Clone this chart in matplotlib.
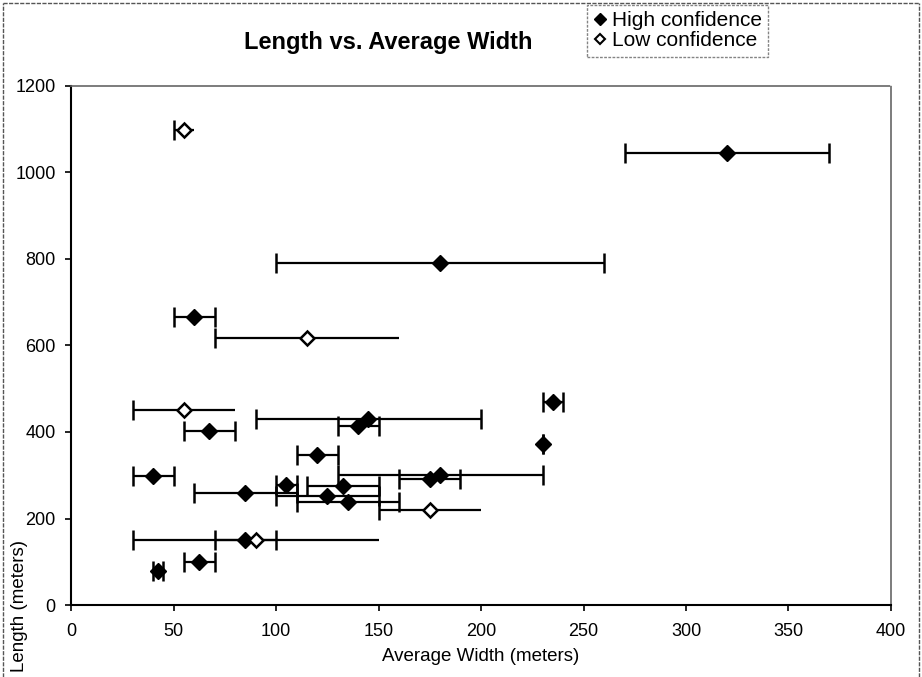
import matplotlib
matplotlib.use('Agg')
import matplotlib.pyplot as plt
from matplotlib.lines import Line2D

plt.rcParams['font.family'] = ['Liberation Sans', 'DejaVu Sans']

# high confidence: width, length, half-range of width
high_x = [320, 180, 60, 235, 230, 145, 140, 67.5, 120, 40, 180, 175, 105, 132.5, 85, 125, 135, 85, 62.5, 42.5]
high_y = [1045, 790, 665, 470, 372, 430, 413, 403, 346, 298, 300, 291, 277, 275, 258, 251, 238, 150, 100, 79]
high_xerr = [50, 80, 10, 5, 0, 55, 10, 12.5, 10, 10, 50, 15, 5, 17.5, 25, 25, 25, 15, 7.5, 2.5]

# low confidence
low_x = [55, 115, 55, 175, 90]
low_y = [1098, 618, 451, 220, 150]
low_xerr = [5, 45, 25, 25, 60]

x_ticks = [0, 50, 100, 150, 200, 250, 300, 350, 400]
y_ticks = [0, 200, 400, 600, 800, 1000, 1200]

W, H = 922, 677
fig = plt.figure(figsize=(W / 100, H / 100), dpi=100)
ax = fig.add_axes([71 / W, 1 - 605 / H, (891 - 71) / W, (605 - 86) / H])

# error bars + markers
ax.errorbar(high_x, high_y, xerr=high_xerr, fmt='none', ecolor='black',
            elinewidth=1.6, capsize=7, capthick=1.8, zorder=2)
eb = ax.errorbar(low_x, low_y, xerr=low_xerr, fmt='none', ecolor='black',
                 elinewidth=1.6, capsize=7, capthick=1.8, zorder=2)
eb[1][1].set_visible(False)  # low confidence bars only show left cap

ax.plot(high_x, high_y, 'D', color='black', ms=8.5, zorder=3)
ax.plot(low_x, low_y, 'D', mfc='white', mec='black', mew=1.8, ms=7.5, zorder=3)

ax.set_xlim(0, 400)
ax.set_ylim(0, 1200)
ax.set_xticks(x_ticks)
ax.set_yticks(y_ticks)
ax.tick_params(labelsize=13, length=4, width=1.2, direction='out')
ax.tick_params(axis='x', pad=9)
ax.tick_params(axis='y', pad=7)
ax.set_xlabel('Average Width (meters)', fontsize=13.5, labelpad=6)

for s in ['top', 'right']:
    ax.spines[s].set_color('#666666')
    ax.spines[s].set_linestyle((0, (2, 1)))
    ax.spines[s].set_linewidth(1.2)
for s in ['left', 'bottom']:
    ax.spines[s].set_linewidth(1.5)

fig.text(388 / W, 1 - 42 / H, 'Length vs. Average Width', fontsize=17,
         fontweight='bold', ha='center', va='center')
fig.text(20 / W, 1 - 606 / H, 'Length (meters)', fontsize=13.5,
         rotation=90, ha='center', va='center')

# outer chart border (top, left, right)
bc = '#555555'
fig.add_artist(Line2D([3 / W, 919 / W], [1 - 3 / H, 1 - 3 / H], transform=fig.transFigure,
                      color=bc, lw=1, ls=(0, (3, 1))))
fig.add_artist(Line2D([3 / W, 3 / W], [0, 1 - 3 / H], transform=fig.transFigure,
                      color=bc, lw=1, ls=(0, (3, 1))))
fig.add_artist(Line2D([919 / W, 919 / W], [0, 1 - 3 / H], transform=fig.transFigure,
                      color=bc, lw=1, ls=(0, (3, 1))))

handles = [Line2D([], [], ls='none', marker='D', color='black', ms=6),
           Line2D([], [], ls='none', marker='D', mfc='white', mec='black', mew=1.5, ms=5.5)]
leg = fig.legend(handles, ['High confidence', 'Low confidence'], loc='upper left',
                 bbox_to_anchor=(587 / W, 1 - 5 / H), fontsize=15, frameon=True,
                 fancybox=False, handlelength=0.6, handletextpad=0.3,
                 borderpad=0.3, labelspacing=0.05, borderaxespad=0)
leg.get_frame().set_edgecolor('#666666')
leg.get_frame().set_linestyle((0, (2, 1)))
leg.get_frame().set_linewidth(1)

fig.savefig('out.png', dpi=100)
